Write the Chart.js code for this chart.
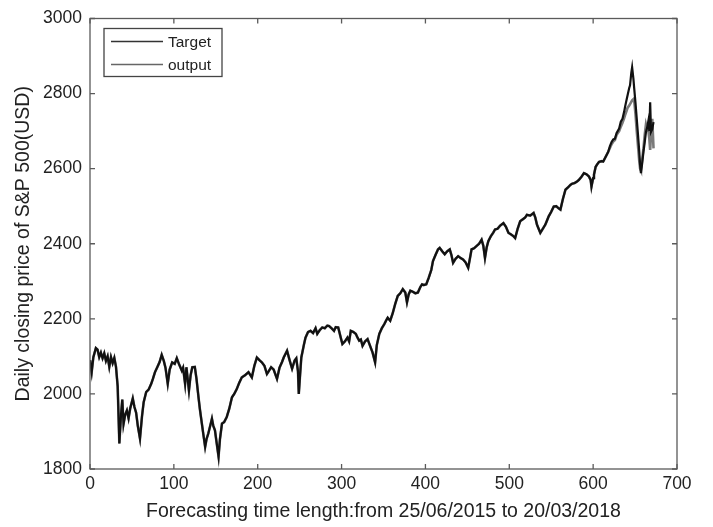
<!DOCTYPE html>
<html>
<head>
<meta charset="utf-8">
<script src="https://cdn.jsdelivr.net/npm/chart.js@4.4.1/dist/chart.umd.min.js"></script>
<style>
  html, body { margin: 0; padding: 0; background: #fff; }
  #wrap { width: 713px; height: 527px; }
</style>
</head>
<body>
<div id="wrap"><canvas id="c" width="713" height="527"></canvas></div>
<script>
const xTitle = "Forecasting time length:from 25/06/2015 to 20/03/2018";
const yTitle = "Daily closing price of S&P 500(USD)";
const seriesNames = ["Target", "output"];
const xTicks = [0, 100, 200, 300, 400, 500, 600, 700];
const yTicks = [1800, 2000, 2200, 2400, 2600, 2800, 3000];

const days = [0,2,4,7,9,11,13,15,17,19,
21,23,25,27,29,31,33,35,37,38.5,
40,42,44,46,48,51,53,55,57,59.6,
62,64,67,70,73,75,77.5,80,83,85.5,
88,90,92.7,95,98,101,103.5,106,109.5,111,
113.4,115,118,120,122,125,127,129.4,131,133.4,
135,137.3,139,141,143,145.4,147,149,151,153.3,
155,157.4,160,163,166,169.3,172,175,178,181,
185,189,193,196,199,202,205,208,211,213,
216,219,223,226,229,231,235,238,241,244,
246,248,249,250.5,252,255,257,260,263,266,
269,271,274,277,280,283,285,288,291,293,
296,299,301,304,307,309,311,314,317,319,
321,323,325,328,331,334,337,340,342,345,
348,351,353,355,358,361,364,367,370,373,
376,378,380,382,385,388,391,394,396,398,
401,404,407,409,412,415,417,420,423,426,
429,431,433,436,439,442,445,448,451,453,
455,458,461,464,467,469,471,473,475,478,
481,483,486,489,493,496,499,502,505,507,
510,513,516,519,521,525,529,531,533,535,
537,540,543,545,547,550,553,556,559,561,
564,567,570,573,575,578,581,583,586,589,
592,595,597,598,600,601,603,605,607,610,
612,615,618,620,622,624,626,628,631,633,
635,637,638,640,641,643,644,645.5,646.5,648,
649,650.5,652,653.5,655,656,657,658.5,660,661.5,
663,664.5,666,667,668,669,670.5,672];

const target = [2090,2058,2098,2122,2118,2098,2110,2095,2108,2088,
2100,2072,2098,2082,2096,2072,2020,1868,1945,1985,
1920,1945,1956,1935,1962,1988,1965,1950,1915,1881,
1940,1978,2005,2012,2027,2040,2058,2070,2085,2104,
2088,2070,2027,2065,2084,2080,2095,2080,2062,2070,
2027,2071,2009,2050,2071,2072,2040,1991,1960,1921,
1895,1859,1880,1894,1912,1934,1915,1903,1870,1833,
1880,1921,1925,1938,1960,1991,2000,2013,2030,2044,
2050,2058,2044,2075,2097,2090,2084,2075,2053,2060,
2071,2065,2040,2070,2085,2097,2115,2090,2067,2089,
2095,2060,2000,2050,2097,2130,2150,2165,2168,2162,
2175,2160,2170,2177,2175,2182,2181,2175,2168,2178,
2177,2150,2133,2140,2150,2140,2168,2165,2160,2150,
2142,2145,2128,2140,2146,2128,2110,2084,2130,2160,
2175,2186,2195,2203,2195,2215,2240,2261,2268,2279,
2270,2244,2265,2275,2272,2268,2270,2285,2292,2290,
2292,2310,2330,2354,2370,2385,2389,2380,2372,2380,
2385,2370,2349,2360,2367,2362,2358,2350,2336,2360,
2385,2388,2394,2400,2411,2395,2362,2390,2407,2420,
2430,2438,2440,2448,2455,2445,2429,2425,2420,2415,
2440,2460,2465,2470,2477,2475,2482,2470,2451,2440,
2429,2440,2451,2462,2473,2485,2499,2500,2494,2491,
2520,2544,2550,2557,2560,2562,2566,2570,2578,2588,
2585,2579,2570,2552,2575,2584,2605,2612,2618,2620,
2619,2632,2645,2660,2671,2678,2680,2695,2707,2725,
2733,2752,2764,2785,2795,2815,2822,2855,2870,2840,
2813,2775,2733,2690,2645,2610,2588,2615,2645,2670,
2698,2710,2729,2700,2777,2698,2705,2724];

const output = [2090,2058,2098,2122,2118,2098,2110,2095,2108,2088,
2100,2072,2098,2082,2096,2072,2020,1868,1945,1985,
1920,1945,1956,1935,1962,1988,1965,1950,1915,1881,
1940,1978,2005,2012,2027,2040,2058,2070,2085,2104,
2088,2070,2027,2065,2084,2080,2095,2080,2062,2070,
2027,2071,2009,2050,2071,2072,2040,1991,1960,1921,
1895,1859,1880,1894,1912,1934,1915,1903,1870,1833,
1880,1921,1925,1938,1960,1991,2000,2013,2030,2044,
2050,2058,2044,2075,2097,2090,2084,2075,2053,2060,
2071,2065,2040,2070,2085,2097,2115,2090,2067,2089,
2095,2060,2000,2050,2097,2130,2150,2165,2168,2162,
2175,2160,2170,2177,2175,2182,2181,2175,2168,2178,
2177,2150,2133,2140,2150,2140,2168,2165,2160,2150,
2142,2145,2128,2140,2146,2128,2110,2084,2130,2160,
2175,2186,2195,2203,2195,2215,2240,2261,2268,2279,
2270,2244,2265,2275,2272,2268,2270,2285,2292,2290,
2292,2310,2330,2354,2370,2385,2389,2380,2372,2380,
2385,2370,2349,2360,2367,2362,2358,2350,2336,2360,
2385,2388,2394,2400,2411,2395,2362,2390,2407,2420,
2430,2438,2440,2448,2455,2445,2429,2425,2420,2415,
2440,2460,2465,2470,2477,2475,2482,2470,2451,2440,
2429,2440,2451,2462,2473,2485,2499,2500,2494,2491,
2520,2544,2550,2557,2560,2562,2566,2570,2578,2588,
2585,2579,2570,2552,2575,2584,2605,2612,2618,2620,
2619,2632,2645,2655,2665,2672,2676,2690,2700,2712,
2722,2735,2742,2755,2762,2768,2772,2778,2782,2785,
2780,2745,2700,2660,2620,2600,2595,2625,2654,2690,
2718,2705,2698,2680,2650,2690,2733,2654];

const FONT = "'Liberation Sans', Arial, Helvetica, sans-serif";
const TEXT = "#222";
const AXIS = "#5a5a5a";

const boxPlugin = {
  id: 'matlabBox',
  afterDatasetsDraw(chart) {
    const { ctx, chartArea: a, scales } = chart;
    ctx.save();
    ctx.strokeStyle = AXIS;
    ctx.lineWidth = 1.3;
    ctx.strokeRect(a.left, a.top, a.right - a.left, a.bottom - a.top);
    const L = 5;
    ctx.beginPath();
    xTicks.forEach(v => {
      const px = scales.x.getPixelForValue(v);
      ctx.moveTo(px, a.bottom); ctx.lineTo(px, a.bottom - L);
      ctx.moveTo(px, a.top); ctx.lineTo(px, a.top + L);
    });
    yTicks.forEach(v => {
      const py = scales.y.getPixelForValue(v);
      ctx.moveTo(a.left, py); ctx.lineTo(a.left + L, py);
      ctx.moveTo(a.right, py); ctx.lineTo(a.right - L, py);
    });
    ctx.stroke();

    // legend inside the axes (upper left)
    const lx = a.left + 14, ly = a.top + 10, lw = 118, lh = 48;
    ctx.fillStyle = "#fff";
    ctx.fillRect(lx, ly, lw, lh);
    ctx.strokeStyle = "#444";
    ctx.lineWidth = 1.3;
    ctx.strokeRect(lx, ly, lw, lh);
    ctx.font = "15.5px " + FONT;
    ctx.textBaseline = "middle";
    ctx.textAlign = "left";
    chart.data.datasets.forEach((ds, i) => {
      const yy = ly + 13 + i * 23;
      ctx.strokeStyle = ds.legendColor;
      ctx.lineWidth = 1.4;
      ctx.beginPath();
      ctx.moveTo(lx + 7, yy); ctx.lineTo(lx + 59, yy);
      ctx.stroke();
      ctx.fillStyle = TEXT;
      ctx.fillText(ds.label, lx + 64, yy + 1);
    });
    ctx.restore();
  }
};

new Chart(document.getElementById('c'), {
  type: 'line',
  data: {
    datasets: [
      {
        label: seriesNames[0],
        data: days.map((d, i) => ({ x: d, y: target[i] })),
        borderColor: "#111",
        legendColor: "#333",
        borderWidth: 2.2,
        pointRadius: 0,
        tension: 0,
        order: 0
      },
      {
        label: seriesNames[1],
        data: days.map((d, i) => ({ x: d, y: output[i] })),
        borderColor: "#7a7a7a",
        legendColor: "#666",
        borderWidth: 2.6,
        pointRadius: 0,
        tension: 0,
        order: 1
      }
    ]
  },
  options: {
    responsive: false,
    animation: false,
    devicePixelRatio: 1,
    layout: { padding: { top: 16, right: 36, left: 0, bottom: 0 } },
    plugins: { legend: { display: false }, tooltip: { enabled: false } },
    scales: {
      x: {
        type: 'linear',
        min: 0, max: 700,
        afterFit(s) { s.height = 58; },
        afterBuildTicks(s) { s.ticks = xTicks.map(v => ({ value: v })); },
        grid: { display: false, drawTicks: false },
        border: { display: false },
        ticks: { padding: 5, color: TEXT, font: { family: FONT, size: 17.5 }, maxRotation: 0,
                 callback: v => String(v) },
        title: { display: true, text: xTitle, color: TEXT, font: { family: FONT, size: 19.5 }, padding: { top: 0, bottom: 4 } }
      },
      y: {
        type: 'linear',
        min: 1800, max: 3000,
        afterFit(s) { s.width = 90; },
        afterBuildTicks(s) { s.ticks = yTicks.map(v => ({ value: v })); },
        grid: { display: false, drawTicks: false },
        border: { display: false },
        ticks: { padding: 8, color: TEXT, font: { family: FONT, size: 17.5 },
                 callback: v => String(v) },
        title: { display: true, text: yTitle, color: TEXT, font: { family: FONT, size: 19.5 }, padding: { top: 12, bottom: 0 } }
      }
    }
  },
  plugins: [boxPlugin]
});
</script>
</body>
</html>
